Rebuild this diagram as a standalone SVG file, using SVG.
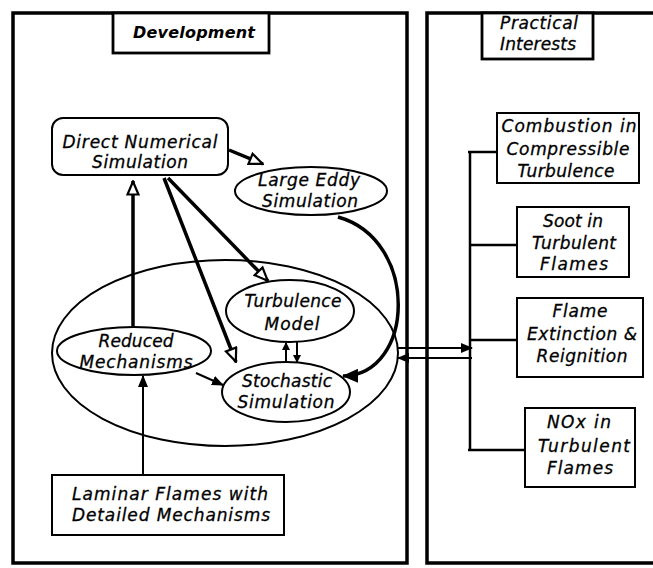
<svg xmlns="http://www.w3.org/2000/svg" width="653" height="568" viewBox="0 0 653 568">
<style>
text{font-family:"DejaVu Sans","Noto Sans",sans-serif;font-style:italic;font-size:17px;fill:#000;stroke:#000;stroke-width:0.3;text-anchor:middle}
.title{font-weight:bold;font-size:16px;stroke-width:0}
.panel{fill:none;stroke:#000;stroke-width:3.5}
.tbox{fill:#fff;stroke:#000;stroke-width:2.8}
.node{fill:#fff;stroke:#000;stroke-width:2}
.big{fill:none;stroke:#000;stroke-width:2}
.thick{fill:none;stroke:#000;stroke-width:3.5}
.thin{fill:none;stroke:#000;stroke-width:2}
.br{fill:none;stroke:#000;stroke-width:2.5}
</style>
<defs>
<marker id="open" viewBox="0 0 16 14" refX="15" refY="7" markerWidth="16" markerHeight="14" markerUnits="userSpaceOnUse" orient="auto">
<path d="M1.5,1.5 L14.5,7 L1.5,12.5 Z" fill="#fff" stroke="#000" stroke-width="2.2"/>
</marker>
<marker id="solid" viewBox="0 0 12 10" refX="11" refY="5" markerWidth="12" markerHeight="10" markerUnits="userSpaceOnUse" orient="auto">
<path d="M0,0 L12,5 L0,10 Z" fill="#000"/>
</marker>
<marker id="small" viewBox="0 0 8 8" refX="7" refY="4" markerWidth="8" markerHeight="8" markerUnits="userSpaceOnUse" orient="auto">
<path d="M0,0 L8,4 L0,8 Z" fill="#000"/>
</marker>
<marker id="big" viewBox="0 0 16 14" refX="15" refY="7" markerWidth="16" markerHeight="14" markerUnits="userSpaceOnUse" orient="auto">
<path d="M0,0 L16,7 L0,14 Z" fill="#000"/>
</marker>
</defs>

<g id="panel-development">
<rect class="panel" x="13" y="13" width="394" height="550"/>
</g>
<g id="panel-practical">
<path class="panel" d="M660,13 L427,13 L427,563 L660,563"/>
</g>

<g id="big-ellipse">
<ellipse class="big" cx="225" cy="353" rx="173" ry="93"/>
</g>

<g id="connectors">
<line class="thick" x1="229" y1="150" x2="263" y2="164" marker-end="url(#open)"/>
<line class="thick" x1="133" y1="326" x2="133" y2="181" marker-end="url(#open)"/>
<line class="thick" x1="168" y1="178" x2="268" y2="281" marker-end="url(#open)"/>
<line class="thick" x1="164" y1="178" x2="236" y2="362" marker-end="url(#open)"/>
<path class="thick" d="M338,217 C420,240 415,375 343,376" marker-end="url(#big)"/>
<line class="thin" x1="196" y1="373" x2="223" y2="385" marker-end="url(#solid)"/>
<line class="thin" x1="143" y1="475" x2="143" y2="376" marker-end="url(#solid)"/>
<line class="thin" x1="286" y1="363" x2="286" y2="343" marker-end="url(#small)"/>
<line class="thin" x1="297" y1="342" x2="297" y2="362" marker-end="url(#small)"/>
<line class="thin" x1="398" y1="348" x2="472" y2="348" marker-end="url(#solid)"/>
<line class="thin" x1="472" y1="358" x2="398" y2="358" marker-end="url(#solid)"/>
<path class="br" d="M470,152 L470,450"/>
<line class="br" x1="468" y1="152" x2="497" y2="152"/>
<line class="br" x1="470" y1="245" x2="517" y2="245"/>
<line class="br" x1="470" y1="340" x2="517" y2="340"/>
<line class="br" x1="468" y1="450" x2="525" y2="450"/>
</g>

<g id="title-development">
<rect class="tbox" x="113" y="13" width="156" height="40"/>
<text class="title" x="194" y="38" textLength="122">Development</text>
</g>
<g id="title-practical">
<rect class="tbox" x="482" y="13" width="111" height="46"/>
<text x="539" y="29" textLength="78">Practical</text>
<text x="538" y="50" textLength="76">Interests</text>
</g>

<g id="dns">
<rect class="node" x="52" y="118" width="176" height="57" rx="11"/>
<text x="140" y="148" textLength="155">Direct Numerical</text>
<text x="140" y="168" textLength="96">Simulation</text>
</g>
<g id="les">
<ellipse class="node" cx="311" cy="191" rx="76" ry="24"/>
<text x="309" y="186" textLength="102">Large Eddy</text>
<text x="310" y="207" textLength="96">Simulation</text>
</g>
<g id="turbulence-model">
<ellipse class="node" cx="290" cy="311" rx="64" ry="31"/>
<text x="293" y="307" textLength="97">Turbulence</text>
<text x="292" y="330" textLength="55">Model</text>
</g>
<g id="reduced-mechanisms">
<ellipse class="node" cx="134" cy="351" rx="77" ry="24"/>
<text x="136" y="347" textLength="75">Reduced</text>
<text x="136" y="368" textLength="113">Mechanisms</text>
</g>
<g id="stochastic-simulation">
<ellipse class="node" cx="286" cy="392" rx="64" ry="30"/>
<text x="287" y="387" textLength="90">Stochastic</text>
<text x="286" y="408" textLength="97">Simulation</text>
</g>
<g id="laminar-flames">
<rect class="node" x="52" y="475" width="232" height="60"/>
<text x="170" y="500" textLength="196">Laminar Flames with</text>
<text x="171" y="521" textLength="198">Detailed Mechanisms</text>
</g>

<g id="combustion-compressible">
<rect class="node" x="497" y="113" width="142" height="70"/>
<text x="569" y="132" textLength="135">Combustion in</text>
<text x="568" y="155" textLength="123">Compressible</text>
<text x="566" y="177" textLength="97">Turbulence</text>
</g>
<g id="soot">
<rect class="node" x="517" y="207" width="112" height="70"/>
<text x="573" y="227" textLength="60">Soot in</text>
<text x="574" y="249" textLength="84">Turbulent</text>
<text x="574" y="270" textLength="68">Flames</text>
</g>
<g id="flame-extinction">
<rect class="node" x="517" y="298" width="126" height="79"/>
<text x="580" y="317" textLength="55">Flame</text>
<text x="582" y="340" textLength="110">Extinction &amp;</text>
<text x="582" y="362" textLength="91">Reignition</text>
</g>
<g id="nox">
<rect class="node" x="525" y="408" width="110" height="79"/>
<text x="579" y="428" textLength="64">NOx in</text>
<text x="584" y="452" textLength="92">Turbulent</text>
<text x="580" y="474" textLength="66">Flames</text>
</g>
</svg>
